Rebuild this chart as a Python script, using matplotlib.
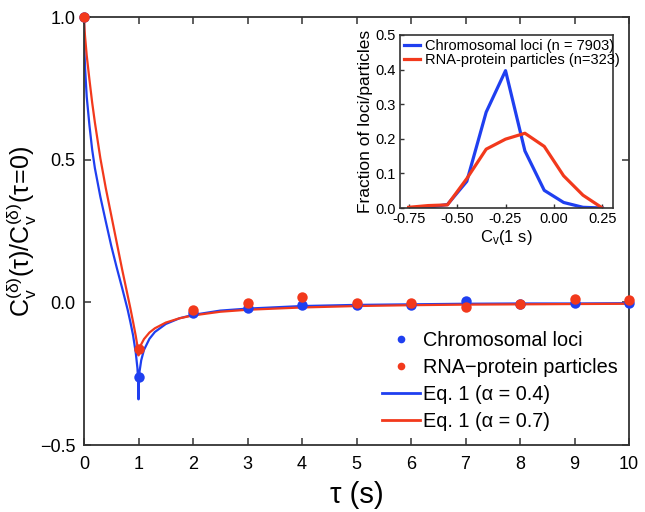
import matplotlib
matplotlib.use('Agg')
import matplotlib.pyplot as plt
from matplotlib.lines import Line2D

# ---------------- data ----------------
# measured (normalised) velocity autocorrelation
tau_data = [0, 1, 2, 3, 4, 5, 6, 7, 8, 9, 10]
loci_data = [1.0, -0.263, -0.038, -0.019, -0.010, -0.010, -0.009, 0.004, -0.006, -0.004, -0.004]
rnp_data = [1.0, -0.162, -0.028, -0.004, 0.017, -0.001, -0.001, -0.015, -0.007, 0.013, 0.007]

# Eq. 1 curves
tau_fit = [0, 0.01, 0.02, 0.05, 0.1, 0.15, 0.2, 0.3, 0.4, 0.5, 0.6, 0.7, 0.8, 0.85, 0.9,
           0.95, 0.98, 0.995, 1.0, 1.005, 1.02, 1.05, 1.1, 1.2, 1.3, 1.5, 1.75,
           2, 2.5, 3, 4, 5, 6, 7, 8, 9, 10]
fit_loci = [1.0, 0.87, 0.82, 0.72, 0.62, 0.535, 0.47, 0.37, 0.283, 0.198, 0.122, 0.05,
            -0.025, -0.068, -0.115, -0.177, -0.23, -0.279, -0.34, -0.282, -0.241,
            -0.203, -0.167, -0.128, -0.104, -0.076, -0.056, -0.044, -0.029,
            -0.022, -0.013, -0.009, -0.007, -0.005, -0.004, -0.004, -0.003]
fit_rnp = [1.0, 0.955, 0.93, 0.865, 0.78, 0.70, 0.63, 0.505, 0.40, 0.305, 0.21, 0.115,
           0.025, -0.02, -0.068, -0.118, -0.153, -0.175, -0.186, -0.177, -0.163,
           -0.147, -0.129, -0.106, -0.091, -0.071, -0.056, -0.046, -0.033,
           -0.026, -0.018, -0.013, -0.010, -0.008, -0.007, -0.006, -0.005]

main_xticks = [0, 1, 2, 3, 4, 5, 6, 7, 8, 9, 10]
main_yticks = [-0.5, 0.0, 0.5, 1.0]
main_yticklabels = ['\u22120.5', '0.0', '0.5', '1.0']

# inset histogram of Cv(1 s)
cv_bins = [-0.75, -0.65, -0.55, -0.45, -0.35, -0.25, -0.15, -0.05, 0.05, 0.15, 0.25]
frac_loci = [0.0, 0.002, 0.010, 0.077, 0.277, 0.397, 0.165, 0.051, 0.016, 0.002, 0.0]
frac_rnp = [0.002, 0.007, 0.009, 0.085, 0.170, 0.199, 0.216, 0.178, 0.093, 0.037, 0.0]
inset_xticks = [-0.75, -0.50, -0.25, 0.00, 0.25]
inset_xticklabels = ['-0.75', '-0.50', '-0.25', '0.00', '0.25']
inset_yticks = [0.0, 0.1, 0.2, 0.3, 0.4, 0.5]
inset_yticklabels = ['0.0', '0.1', '0.2', '0.3', '0.4', '0.5']

labels_main = ['Chromosomal loci', 'RNA\u2212protein particles',
               'Eq. 1 (\u03b1 = 0.4)', 'Eq. 1 (\u03b1 = 0.7)']
labels_inset = ['Chromosomal loci (n = 7903)', 'RNA-protein particles (n=323)']

# ---------------- style ----------------
plt.rcParams['font.family'] = ['Liberation Sans', 'DejaVu Sans']
plt.rcParams['mathtext.fontset'] = 'custom'
plt.rcParams['mathtext.rm'] = 'Liberation Sans'
plt.rcParams['mathtext.it'] = 'Liberation Sans:italic'
plt.rcParams['mathtext.bf'] = 'Liberation Sans:bold'

BLUE = '#1f3ff0'
RED = '#f2391c'
SPINE = '#333333'

fig = plt.figure(figsize=(6.45, 5.12), dpi=100)
W, H = 645, 512

# ---------------- main axes ----------------
ax = fig.add_axes([84 / W, 1 - 445 / H, (629 - 84) / W, (445 - 17) / H])
ax.plot(tau_fit, fit_loci, color=BLUE, lw=1.6, zorder=2)
ax.plot(tau_fit, fit_rnp, color=RED, lw=1.6, zorder=2.1)
ax.plot(tau_data, loci_data, 'o', color=BLUE, ms=7.5, mec='none', clip_on=False, zorder=3)
ax.plot(tau_data, rnp_data, 'o', color=RED, ms=7.5, mec='none', clip_on=False, zorder=4)

ax.set_xlim(0, 10)
ax.set_ylim(-0.5, 1.0)
ax.set_xticks(main_xticks)
ax.set_yticks(main_yticks)
ax.set_yticklabels(main_yticklabels)
ax.tick_params(direction='in', top=True, right=True, length=5, width=1.1,
               labelsize=13, color=SPINE)
ax.tick_params(axis='x', pad=8)
ax.tick_params(axis='y', pad=6)
for s in ax.spines.values():
    s.set_linewidth(1.3)
    s.set_color(SPINE)

ax.set_xlabel('\u03c4 (s)', fontsize=21, labelpad=6)
ax.set_ylabel(r'$\mathregular{C_v^{(\delta)}(\tau)/C_v^{(\delta)}(\tau\!=\!0)}$',
              fontsize=18, labelpad=1)

handles = [
    Line2D([], [], marker='o', ls='none', color=BLUE, ms=5.5, mec='none'),
    Line2D([], [], marker='o', ls='none', color=RED, ms=5.5, mec='none'),
    Line2D([], [], color=BLUE, lw=2),
    Line2D([], [], color=RED, lw=2),
]
ax.legend(handles, labels_main, loc='lower right', bbox_to_anchor=(0.997, 0.01),
          frameon=False, fontsize=14.3, handlelength=1.9, handletextpad=0.15,
          labelspacing=0.4, borderaxespad=0.3, borderpad=0.2)

# ---------------- inset ----------------
ax2 = fig.add_axes([400 / W, 1 - 208 / H, (613 - 400) / W, (208 - 35) / H])
ax2.plot(cv_bins, frac_loci, color=BLUE, lw=2.3, label=labels_inset[0])
ax2.plot(cv_bins, frac_rnp, color=RED, lw=2.3, label=labels_inset[1])
ax2.set_xlim(-0.795, 0.305)
ax2.set_ylim(0, 0.5)
ax2.set_xticks(inset_xticks)
ax2.set_xticklabels(inset_xticklabels)
ax2.set_yticks(inset_yticks)
ax2.set_yticklabels(inset_yticklabels)
ax2.tick_params(direction='in', length=3, width=1, labelsize=10.5, color=SPINE, pad=3)
for s in ax2.spines.values():
    s.set_linewidth(1.2)
    s.set_color(SPINE)
ax2.set_ylabel('Fraction of loci/particles', fontsize=12.5, labelpad=2)
ax2.set_xlabel(r'$\mathregular{C_v(1\ s)}$', fontsize=12, labelpad=1)
ax2.legend(loc='upper left', frameon=False, fontsize=10.5, handlelength=1.1,
           handletextpad=0.35, labelspacing=0.05, borderaxespad=0.15, borderpad=0.1)

fig.savefig('out.png', dpi=100)
